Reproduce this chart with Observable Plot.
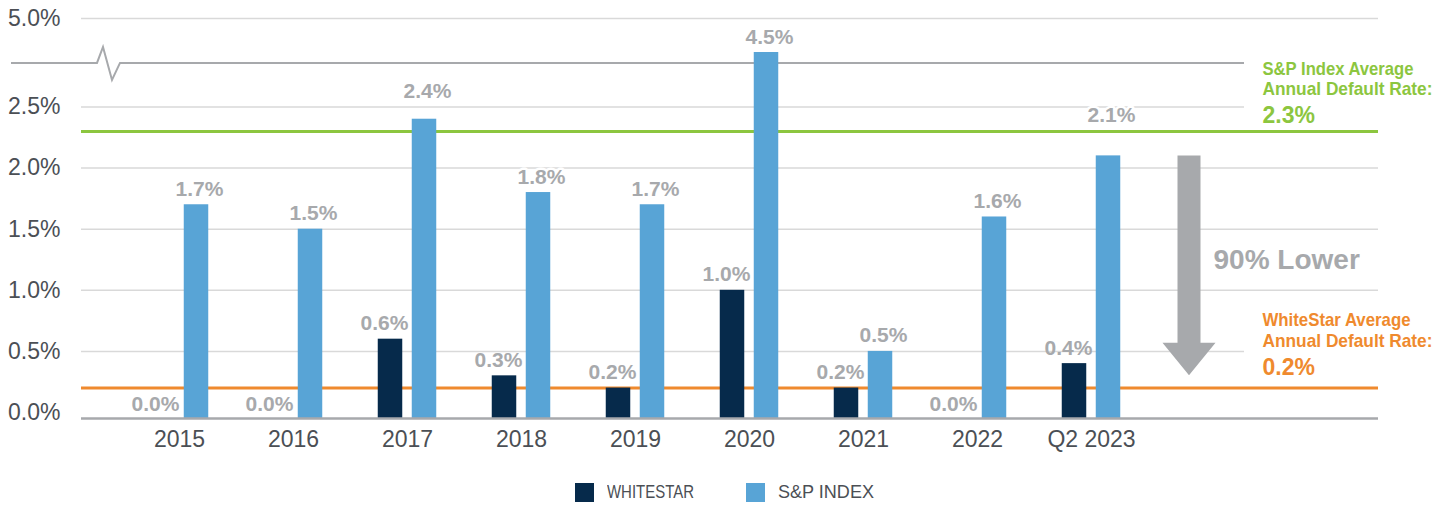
<!DOCTYPE html>
<html>
<head>
<meta charset="utf-8">
<script src="https://cdn.jsdelivr.net/npm/d3@7"></script>
<script src="https://cdn.jsdelivr.net/npm/@observablehq/plot@0.6"></script>
<style>
  body { margin: 0; background: #ffffff; }
  #chart svg { display: block; }
  #legend { position: relative; width: 1450px; height: 40px; font-family: "Liberation Sans", Arial, sans-serif; font-size: 18.5px; color: #4b4f55; }
  #legend .sw { position: absolute; top: 17px; width: 19px; height: 19px; }
  #legend .lb { position: absolute; top: 14px; line-height: 24px; white-space: nowrap; transform-origin: 0 50%; }
</style>
</head>
<body>
<div id="chart"></div>
<div id="legend"></div>
<script>
// ---- data ----
const categories = ["2015", "2016", "2017", "2018", "2019", "2020", "2021", "2022", "Q2 2023"];
const whitestar = [0.0, 0.0, 0.6, 0.3, 0.2, 1.0, 0.2, 0.0, 0.4];
const spIndex = [1.7, 1.5, 2.4, 1.8, 1.7, 4.5, 0.5, 1.6, 2.1];
const yTicks = [0, 0.5, 1.0, 1.5, 2.0, 2.5, 5.0];
const spAverage = 2.3;
const whitestarAverage = 0.2;
const axisBreak = 4.1;
const arrowFrom = 2.1;
const arrowTo = 0.3;
const seriesNames = ["WHITESTAR", "S&P INDEX"];
const spLabelLines = ["S&P Index Average", "Annual Default Rate:"];
const wsLabelLines = ["WhiteStar Average", "Annual Default Rate:"];
const arrowText = "90% Lower";

// ---- style ----
const navy = "#062a4b";
const blue = "#58a4d6";
const gray = "#a7a9ac";
const green = "#8cc63f";
const orange = "#ef8a2e";
const textDark = "#4b4f55";
const baseFont = "'Liberation Sans', Arial, sans-serif";
const fmt = v => d3.format(".1f")(v) + "%";

const rows = categories.map((c, i) => ({category: c, whitestar: whitestar[i], sp: spIndex[i]}));

// S&P value labels that would run into a reference line sit just above that line
const spLabelY = v => {
  for (const L of [spAverage, yTicks[5]]) if (L > v && L < v + 0.22) return L;
  return v;
};

const svgNS = "http://www.w3.org/2000/svg";
function el(tag, attrs) {
  const e = document.createElementNS(svgNS, tag);
  for (const k in attrs) e.setAttribute(k, attrs[k]);
  return e;
}

// axis break line with zigzag
function breakMark(index, scales, values, dim) {
  const y = scales.y(axisBreak);
  const x0 = 11, zx = 97, x1 = dim.width - dim.marginRight;
  const d = `M${x0},${y}H${zx}L${zx + 6},${y - 16}L${zx + 15},${y + 17}L${zx + 23},${y}H${x1}`;
  return el("path", {d, fill: "none", stroke: gray, "stroke-width": 2});
}

// white boxes behind the average annotations
function boxMark(index, scales, values, dim) {
  const g = el("g", {});
  const x = dim.width - dim.marginRight - 134;
  const ys = scales.y(spAverage), yw = scales.y(whitestarAverage);
  g.appendChild(el("rect", {x, y: ys - 78, width: dim.width - x, height: 72, fill: "#fff"}));
  g.appendChild(el("rect", {x, y: yw - 88, width: dim.width - x, height: 82, fill: "#fff"}));
  return g;
}

// block arrow
function arrowMark(index, scales, values, dim) {
  const ax = dim.width - dim.marginRight - 189;
  const yt = scales.y(arrowFrom), yb = scales.y(arrowTo);
  const sw = 11.5, hw = 26.5, hh = 32.5;
  const d = `M${ax - sw},${yt}H${ax + sw}V${yb - hh}H${ax + hw}L${ax},${yb}L${ax - hw},${yb - hh}H${ax - sw}Z`;
  const g = el("g", {});
  g.appendChild(el("path", {d, fill: gray}));
  const t = el("text", {x: ax + 24.5, y: (yt + yb) / 2 + 4, fill: gray, "font-size": 28, "font-weight": "bold", "font-family": baseFont, "text-anchor": "start"});
  t.textContent = arrowText;
  g.appendChild(t);
  return g;
}

const annot = (value, text, dy, fill, size) =>
  Plot.text([value], {y: d => d, frameAnchor: "right", dx: -116, textAnchor: "start", text, dy, fill, fontWeight: "bold", fontSize: size, fontFamily: baseFont});

const valueLabel = {lineAnchor: "bottom", fill: gray, fontWeight: "bold", fontSize: 21, fontFamily: baseFont};

const chart = Plot.plot({
  width: 1450,
  height: 466,
  marginLeft: 81,
  marginRight: 72,
  marginTop: 0,
  marginBottom: 48,
  style: {fontFamily: baseFont, fontSize: "23px", color: textDark, background: "#fff"},
  x: {type: "band", domain: categories, range: [119.25, 1149.75], padding: 0, label: null, tickSize: 0, tickPadding: 12},
  y: {type: "linear", domain: [0, 2.5, 4.5, 5], range: [412, 106.5, 52, 18], ticks: yTicks, tickFormat: fmt, tickSize: 0, tickPadding: 21, label: null},
  marks: [
    Plot.ruleY(yTicks.filter(t => t > 0), {stroke: "#d9d9d9", strokeWidth: 1.5}),
    breakMark,
    boxMark,
    Plot.ruleY([spAverage], {stroke: green, strokeWidth: 3}),
    Plot.ruleY([whitestarAverage], {stroke: orange, strokeWidth: 3}),
    Plot.barY(rows.filter(d => d.whitestar > 0), {x: "category", y1: 0, y2: "whitestar", fill: navy, dx: -17, insetLeft: 44.75, insetRight: 44.75, insetBottom: -6}),
    Plot.barY(rows, {x: "category", y1: 0, y2: "sp", fill: blue, dx: 17, insetLeft: 44.75, insetRight: 44.75, insetBottom: -6}),
    Plot.ruleY([0], {stroke: gray, strokeWidth: 2.5, dy: 6}),
    // WhiteStar labels: above the bar, or on the baseline when there is no bar
    Plot.text(rows.filter(d => d.whitestar > 0), {x: "category", y: "whitestar", text: d => fmt(d.whitestar), dx: -23, dy: -9, ...valueLabel}),
    Plot.text(rows.filter(d => d.whitestar === 0), {x: "category", y: "whitestar", text: d => fmt(d.whitestar), dx: -24, dy: -2, ...valueLabel}),
    Plot.text(rows, {x: "category", y: d => spLabelY(d.sp), text: d => fmt(d.sp), dx: 20, dy: -9, stroke: "#fff", strokeWidth: 5, ...valueLabel}),
    arrowMark,
    annot(spAverage, () => spLabelLines[0], -62.7, green, 19),
    annot(spAverage, () => spLabelLines[1], -43, green, 19),
    annot(spAverage, d => fmt(d), -16.1, green, 23),
    annot(whitestarAverage, () => wsLabelLines[0], -68.6, orange, 19),
    annot(whitestarAverage, () => wsLabelLines[1], -47, orange, 19),
    annot(whitestarAverage, d => fmt(d), -20, orange, 23)
  ]
});
document.getElementById("chart").appendChild(chart);

// condensed look of the annotation headings
const headingWidths = {"S&P Index Average": 151, "Annual Default Rate:": 170, "WhiteStar Average": 148};
d3.select(chart).selectAll("text").each(function () {
  const w = headingWidths[this.textContent];
  if (w) { this.setAttribute("textLength", w); this.setAttribute("lengthAdjust", "spacingAndGlyphs"); }
});

// legend
const legend = document.getElementById("legend");
const legendItems = [
  {name: seriesNames[0], color: navy, sw: 575, lb: 606.7, w: 87},
  {name: seriesNames[1], color: blue, sw: 746, lb: 777.7, w: 96}
];
for (const it of legendItems) {
  const s = document.createElement("div");
  s.className = "sw"; s.style.left = it.sw + "px"; s.style.background = it.color;
  const l = document.createElement("div");
  l.className = "lb"; l.style.left = it.lb + "px"; l.textContent = it.name;
  legend.appendChild(s); legend.appendChild(l);
  const w = l.getBoundingClientRect().width;
  if (w > 0) l.style.transform = `scaleX(${it.w / w})`;
}
</script>
</body>
</html>
